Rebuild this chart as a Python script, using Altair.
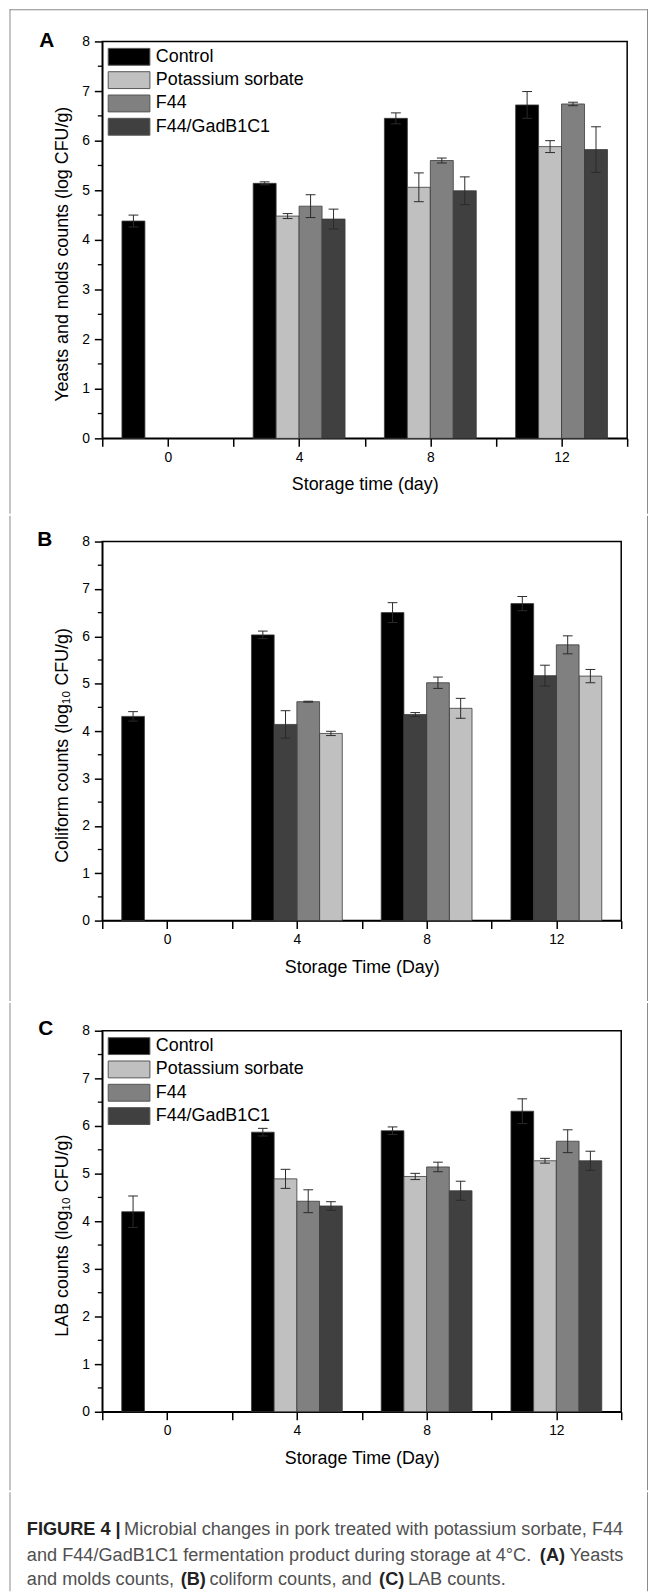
import altair as alt
import pandas as pd

FONT = "Liberation Sans, Arial, Helvetica, sans-serif"

# ---------------- data ----------------
days = [0, 4, 8, 12]
treat_days = [4, 8, 12]
series_names = ["Control", "Potassium sorbate", "F44", "F44/GadB1C1"]
series_colors = ["#000000", "#c0c0c0", "#808080", "#404040"]

# Panel A - yeasts and molds
a_order = ["Control", "Potassium sorbate", "F44", "F44/GadB1C1"]
a_control = [4.38, 5.14, 6.45, 6.72]
a_control_sd = [0.12, 0.03, 0.11, 0.27]
a_sorbate = [4.48, 5.06, 5.88]
a_sorbate_sd = [0.05, 0.29, 0.12]
a_f44 = [4.68, 5.60, 6.74]
a_f44_sd = [0.23, 0.05, 0.035]
a_gad = [4.42, 4.99, 5.82]
a_gad_sd = [0.20, 0.28, 0.46]

# Panel B - coliforms
b_order = ["Control", "F44/GadB1C1", "F44", "Potassium sorbate"]
b_control = [4.31, 6.03, 6.50, 6.69]
b_control_sd = [0.10, 0.08, 0.21, 0.15]
b_sorbate = [3.95, 4.48, 5.16]
b_sorbate_sd = [0.045, 0.21, 0.14]
b_f44 = [4.62, 5.02, 5.82]
b_f44_sd = [0.01, 0.12, 0.19]
b_gad = [4.14, 4.35, 5.17]
b_gad_sd = [0.29, 0.04, 0.22]

# Panel C - LAB
c_order = ["Control", "Potassium sorbate", "F44", "F44/GadB1C1"]
c_control = [4.20, 5.87, 5.90, 6.31]
c_control_sd = [0.33, 0.08, 0.08, 0.26]
c_sorbate = [4.89, 4.94, 5.27]
c_sorbate_sd = [0.20, 0.065, 0.05]
c_f44 = [4.42, 5.14, 5.68]
c_f44_sd = [0.24, 0.10, 0.24]
c_gad = [4.32, 4.64, 5.27]
c_gad_sd = [0.09, 0.20, 0.20]

x_ticks = [-2, 0, 2, 4, 6, 8, 10, 12, 14]
y_ticks = [0, 1, 2, 3, 4, 5, 6, 7, 8]
y_minor = [0.5, 1.5, 2.5, 3.5, 4.5, 5.5, 6.5, 7.5]

caption_texts = [
    "FIGURE 4 |",
    "Microbial changes in pork treated with potassium sorbate, F44",
    "and F44/GadB1C1 fermentation product during storage at 4°C.",
    "(A)",
    "Yeasts",
    "and molds counts,",
    "(B)",
    "coliform counts, and",
    "(C)",
    "LAB counts.",
]
caption_bold = [True, False, False, True, False, False, True, False, True, False]

# ---------------- helpers ----------------
def build_df(order, ctrl, ctrl_sd, sorb, sorb_sd, f44, f44_sd, gad, gad_sd):
    rows = []
    for d, v, s in zip(days, ctrl, ctrl_sd):
        rows.append({"day": d, "series": "Control", "value": v, "sd": s})
    for name, vals, sds in [("Potassium sorbate", sorb, sorb_sd),
                            ("F44", f44, f44_sd),
                            ("F44/GadB1C1", gad, gad_sd)]:
        for d, v, s in zip(treat_days, vals, sds):
            rows.append({"day": d, "series": name, "value": v, "sd": s})
    df = pd.DataFrame(rows)
    df["pos"] = df["series"].map(lambda n: order.index(n))
    return df


cscale = alt.Scale(domain=series_names, range=series_colors)
one = pd.DataFrame({"k": [0]})
FRAME_COLOR = "#8a8a8a"
FRAME_LEFT = -93.5
FRAME_RIGHT = 549


def frame_rects(top, bottom, with_top=False):
    # 1px filled rectangles (no stroke => exact bounds)
    layers = [
        alt.Chart(one).mark_rect(color=FRAME_COLOR, strokeWidth=0).encode(
            x=alt.value(FRAME_LEFT), x2=alt.value(FRAME_LEFT + 1),
            y=alt.value(top), y2=alt.value(bottom)),
        alt.Chart(one).mark_rect(color=FRAME_COLOR, strokeWidth=0).encode(
            x=alt.value(FRAME_RIGHT), x2=alt.value(FRAME_RIGHT + 1),
            y=alt.value(top), y2=alt.value(bottom)),
    ]
    if with_top:
        layers.append(
            alt.Chart(one).mark_rect(color=FRAME_COLOR, strokeWidth=0).encode(
                x=alt.value(FRAME_LEFT), x2=alt.value(FRAME_RIGHT + 1),
                y=alt.value(top), y2=alt.value(top + 1)))
    return layers


def panel(df, order, width, height, xtitle, ytitle, letter, letter_xy,
          show_legend, frame_top, frame_bottom, with_top):
    xscale = alt.Scale(domain=[-2, 14], nice=False, zero=False)
    yscale = alt.Scale(domain=[0, 8], nice=False)
    base = alt.Chart(df).transform_calculate(
        xc="datum.day + (datum.pos - 1.5) * 0.7",
        x0="datum.xc - 0.35",
        x1="datum.xc + 0.35",
        lo="datum.value - datum.sd",
        hi="datum.value + datum.sd",
        c0="datum.xc - 0.15",
        c1="datum.xc + 0.15",
    )
    xaxis = alt.Axis(values=x_ticks, labelExpr="datum.value % 4 === 0 ? datum.label : ''",
                     title=xtitle, tickSize=8, labelPadding=4, titlePadding=12,
                     labelFlush=False, labelOverlap=False, grid=False)
    yaxis = alt.Axis(values=y_ticks, format="d", title=ytitle, tickSize=8,
                     labelPadding=5, titlePadding=10, titleY=height / 2 + 14, grid=False)
    bars = base.mark_rect(stroke="#3a3a3a", strokeWidth=0.8).encode(
        x=alt.X("x0:Q", scale=xscale, axis=xaxis),
        x2="x1:Q",
        y=alt.Y("value:Q", scale=yscale, axis=yaxis),
        y2=alt.datum(0),
        color=alt.Color("series:N", scale=cscale, legend=None),
    )
    err = base.mark_rule(color="#2a2a2a", strokeWidth=1).encode(
        x=alt.X("xc:Q", scale=xscale, axis=xaxis),
        y=alt.Y("lo:Q", scale=yscale, axis=yaxis), y2="hi:Q")
    cap_hi = base.mark_rule(color="#2a2a2a", strokeWidth=1).encode(
        x=alt.X("c0:Q", scale=xscale, axis=xaxis), x2="c1:Q",
        y=alt.Y("hi:Q", scale=yscale, axis=yaxis))
    cap_lo = base.mark_rule(color="#2a2a2a", strokeWidth=1).encode(
        x=alt.X("c0:Q", scale=xscale, axis=xaxis), x2="c1:Q",
        y=alt.Y("lo:Q", scale=yscale, axis=yaxis))
    minor = alt.Chart(pd.DataFrame({"m": y_minor})).mark_rule(color="black", strokeWidth=1.3).encode(
        y=alt.Y("m:Q", scale=yscale, axis=yaxis), x=alt.value(-4.5), x2=alt.value(0))
    label = alt.Chart(one).mark_text(text=letter, font=FONT, fontSize=21, fontWeight="bold",
                                     color="black", align="center", baseline="middle").encode(
        x=alt.value(letter_xy[0]), y=alt.value(letter_xy[1]))
    layers = [bars, err, cap_hi, cap_lo, minor, label] + frame_rects(frame_top, frame_bottom, with_top)
    if show_legend:
        for i, name in enumerate(order):
            one_s = pd.DataFrame({"series": [name]})
            top = 7 + 23.5 * i
            layers.append(
                alt.Chart(one_s).mark_rect(stroke="#555555", strokeWidth=1).encode(
                    x=alt.value(6), x2=alt.value(48),
                    y=alt.value(top), y2=alt.value(top + 17),
                    color=alt.Color("series:N", scale=cscale, legend=None)))
            layers.append(
                alt.Chart(one_s).mark_text(align="left", baseline="middle", font=FONT,
                                           fontSize=18, color="black").encode(
                    x=alt.value(54), y=alt.value(top + 8.5), text="series:N"))
    return alt.layer(*layers).properties(
        width=width, height=height,
        view=alt.ViewBackground(stroke="black", strokeWidth=1.5))


dfA = build_df(a_order, a_control, a_control_sd, a_sorbate, a_sorbate_sd, a_f44, a_f44_sd, a_gad, a_gad_sd)
dfB = build_df(b_order, b_control, b_control_sd, b_sorbate, b_sorbate_sd, b_f44, b_f44_sd, b_gad, b_gad_sd)
dfC = build_df(c_order, c_control, c_control_sd, c_sorbate, c_sorbate_sd, c_f44, c_f44_sd, c_gad, c_gad_sd)

pA = panel(dfA, a_order, 529, 400, "Storage time (day)", "Yeasts and molds counts (log CFU/g)",
           "A", (-56, 0), True, -32.5, 476, True)
pB = panel(dfB, b_order, 523, 382, "Storage Time (Day)", "Coliform counts (log\u2081\u2080 CFU/g)",
           "B", (-58, -2), False, -26, 463, False)
pC = panel(dfC, c_order, 523, 384, "Storage Time (Day)", "LAB counts (log\u2081\u2080 CFU/g)",
           "C", (-57, -2), True, -28, 463, False)

# caption (positions of each text fragment, relative to plot left / caption top)
caption_x = [-76, 22, -76, 441, 471, -76, 79, 108, 279, 308]
caption_y = [38, 38, 64, 64, 64, 89, 89, 89, 89, 89]
cap_layers = []
for t, b, cx, cy in zip(caption_texts, caption_bold, caption_x, caption_y):
    cap_layers.append(
        alt.Chart(one).mark_text(text=t, font=FONT, fontSize=18.3, align="left", baseline="middle",
                                 fontWeight="bold" if b else "normal",
                                 color="#222222" if b else "#505050").encode(
            x=alt.value(cx), y=alt.value(cy)))
cap_layers += frame_rects(0, 100, False)
caption = alt.layer(*cap_layers).properties(
    width=523, height=80, view=alt.ViewBackground(stroke="transparent"))

chart = alt.vconcat(pA, pB, pC, caption, spacing=0).properties(
    padding={"left": 0, "top": -6.5, "right": 0, "bottom": 0}
).configure_axis(
    labelFont=FONT, titleFont=FONT, labelFontSize=14, titleFontSize=18,
    labelColor="black", titleColor="black", titleFontWeight="normal",
    domainColor="black", domainWidth=1.5, tickColor="black", tickWidth=1.5,
)

chart.save("out.html", embed_options={"renderer": "svg", "actions": False})
